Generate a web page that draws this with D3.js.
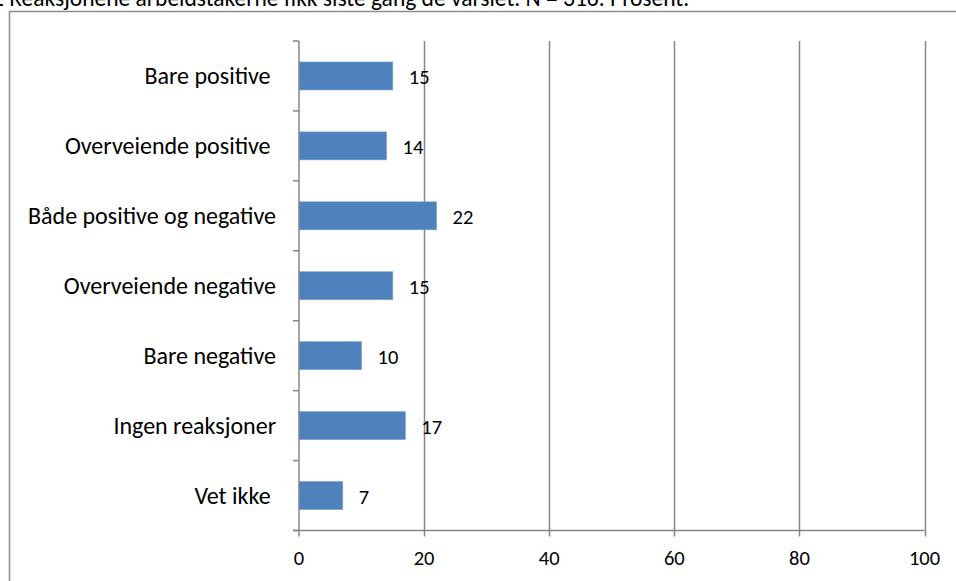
<!DOCTYPE html>
<html>
<head>
<meta charset="utf-8">
<script src="https://cdn.jsdelivr.net/npm/d3@7"></script>
<style>
  body { margin: 0; background: #fff; }
  svg { display: block; font-family: Carlito, "Open Sans", sans-serif; }
  .cat { white-space: pre; }
</style>
</head>
<body>
<div id="chart"></div>
<script>
// chart data
var categories = ["Bare positive ", "Overveiende positive ", "Både positive og negative",
                  "Overveiende negative", "Bare negative", "Ingen reaksjoner", "Vet ikke "];
var values = [15, 14, 22, 15, 10, 17, 7];
var xTicks = [0, 20, 40, 60, 80, 100];
var title = "2 Reaksjonene arbeidstakerne fikk siste gang de varslet. N = 316. Prosent.";

var width = 956, height = 581,
    gridColor = "#868686",
    barColor = "#4f81bd";

var svg = d3.select("#chart").append("svg")
    .attr("width", width)
    .attr("height", height);

// outer chart frame (runs off the right and bottom edges)
svg.append("rect")
    .attr("x", 9.5).attr("y", 11.5)
    .attr("width", 980).attr("height", 620)
    .attr("fill", "none")
    .attr("stroke", "#8c8c8c")
    .attr("stroke-width", 1.5);

// title, cut off at the top like in the source
svg.append("text")
    .attr("x", -8).attr("y", 6)
    .attr("font-size", 23.5)
    .attr("fill", "#000")
    .text(title);

var plot = { left: 299, right: 924.5, top: 41, bottom: 530.5 };

var x = d3.scaleLinear().domain([0, 100]).range([plot.left, plot.right]);
var y = d3.scaleBand().domain(categories).range([plot.top, plot.bottom])
    .paddingInner(0.6).paddingOuter(0.3);
var band = (plot.bottom - plot.top) / categories.length;

// vertical gridlines + x ticks
svg.selectAll(".grid")
    .data(xTicks.slice(1))
    .enter().append("line")
    .attr("class", "grid")
    .attr("x1", d => Math.round(x(d)) + 0.5).attr("x2", d => Math.round(x(d)) + 0.5)
    .attr("y1", plot.top).attr("y2", plot.bottom + 6)
    .attr("stroke", gridColor).attr("stroke-width", 1.5);

// bars
svg.selectAll(".bar")
    .data(values)
    .enter().append("rect")
    .attr("class", "bar")
    .attr("x", x(0))
    .attr("y", (d, i) => y(categories[i]))
    .attr("width", d => x(d) - x(0))
    .attr("height", y.bandwidth())
    .attr("fill", barColor)
    .attr("stroke", "#7aa0d0")
    .attr("stroke-width", 0.6);

// y axis line and category ticks
svg.append("line")
    .attr("x1", x(0)).attr("x2", x(0))
    .attr("y1", plot.top).attr("y2", plot.bottom + 6)
    .attr("stroke", gridColor).attr("stroke-width", 1.5);

svg.selectAll(".ytick")
    .data(d3.range(categories.length + 1))
    .enter().append("line")
    .attr("class", "ytick")
    .attr("x1", x(0) - 6).attr("x2", x(0))
    .attr("y1", i => plot.top + i * band).attr("y2", i => plot.top + i * band)
    .attr("stroke", gridColor).attr("stroke-width", 1.5);

// x axis line
svg.append("line")
    .attr("x1", x(0) - 6).attr("x2", x(100))
    .attr("y1", plot.bottom).attr("y2", plot.bottom)
    .attr("stroke", gridColor).attr("stroke-width", 1.5);

// x tick labels
svg.selectAll(".xlabel")
    .data(xTicks)
    .enter().append("text")
    .attr("class", "xlabel")
    .attr("x", d => x(d))
    .attr("y", 558)
    .attr("text-anchor", "middle")
    .attr("dominant-baseline", "central")
    .attr("font-size", 20.5)
    .text(d => d);

// category labels
svg.selectAll(".cat")
    .data(categories)
    .enter().append("text")
    .attr("class", "cat")
    .attr("x", 276)
    .attr("y", d => y(d) + y.bandwidth() / 2)
    .attr("text-anchor", "end")
    .attr("dominant-baseline", "central")
    .attr("font-size", 24)
    .text(d => d);

// value labels
svg.selectAll(".val")
    .data(values)
    .enter().append("text")
    .attr("class", "val")
    .attr("x", d => x(d) + 16)
    .attr("y", (d, i) => y(categories[i]) + y.bandwidth() / 2 + 1)
    .attr("dominant-baseline", "central")
    .attr("font-size", 20.5)
    .text(d => d);
</script>
</body>
</html>
